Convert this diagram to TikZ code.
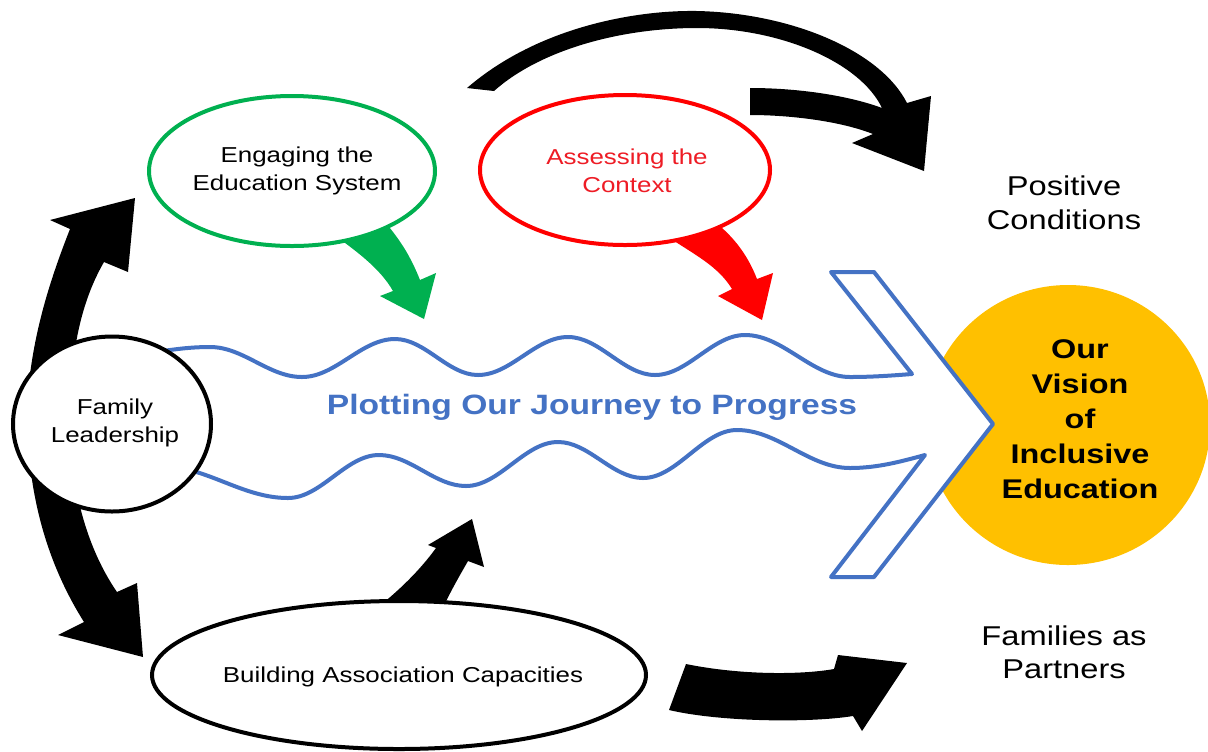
\documentclass[tikz,border=0pt]{standalone}
\usepackage{fontspec}
\setmainfont{Liberation Sans}[FakeStretch=1.2]
\usetikzlibrary{calc,shapes.geometric}
\definecolor{cgreen}{HTML}{00B050}
\definecolor{cred}{HTML}{FF0000}
\definecolor{credtext}{HTML}{EE1C25}
\definecolor{cblue}{HTML}{4472C4}
\definecolor{cgold}{HTML}{FFC000}
\begin{document}
\begin{tikzpicture}[x=0.5pt,y=-0.5pt,
  txt/.style={font=\fontsize{10.8pt}{13.9pt}\selectfont, align=center},
  bigtxt/.style={font=\fontsize{13.6pt}{17pt}\selectfont, align=center, inner sep=0pt},
  oval/.style={ellipse, draw, line width=2pt, fill=white, inner sep=0pt, outer sep=0pt},
  blockarrow/.style={fill=black, draw=none},
  wavestyle/.style={draw=cblue, line width=2pt, fill=white, line join=round}]
\useasboundingbox (0,0) rectangle (1208,751);
\fill[white] (0,0) rectangle (1208,751);

% vision circle
\node[ellipse, fill=cgold, minimum width=142pt, minimum height=140pt, inner sep=0pt] (vision) at (1068,425) {};

% wave arrow
\coordinate (U0) at (210,347);
\coordinate (U1) at (302,377);
\coordinate (U2) at (395,339);
\coordinate (U3) at (478,375);
\coordinate (U4) at (568,337);
\coordinate (U5) at (655,375);
\coordinate (U6) at (745,335);
\coordinate (U7) at (850,377);
\coordinate (U8) at (912,374);
\coordinate (L0) at (160,466);
\coordinate (L1) at (288,498);
\coordinate (L2) at (379,455);
\coordinate (L3) at (466,486);
\coordinate (L4) at (558,442);
\coordinate (L5) at (643,478);
\coordinate (L6) at (737,430);
\coordinate (L7) at (850,468);
\coordinate (L8) at (925,455);
\path[wavestyle] (150,353) sin (U0)
  cos ($(U0)!.5!(U1)$) sin (U1)
  cos ($(U1)!.5!(U2)$) sin (U2)
  cos ($(U2)!.5!(U3)$) sin (U3)
  cos ($(U3)!.5!(U4)$) sin (U4)
  cos ($(U4)!.5!(U5)$) sin (U5)
  cos ($(U5)!.5!(U6)$) sin (U6)
  cos ($(U6)!.5!(U7)$) sin (U7)
  cos (U8) -- (831,272) -- (874,272) -- (993,424) -- (874,577) -- (831,577) -- (L8)
  sin (L7)
  cos ($(L7)!.5!(L6)$) sin (L6)
  cos ($(L6)!.5!(L5)$) sin (L5)
  cos ($(L5)!.5!(L4)$) sin (L4)
  cos ($(L4)!.5!(L3)$) sin (L3)
  cos ($(L3)!.5!(L2)$) sin (L2)
  cos ($(L2)!.5!(L1)$) sin (L1)
  cos ($(L1)!.5!(L0)$) sin (L0)
  -- (140,466) -- cycle;

% left double arrow
\fill[blockarrow] (135,198) -- (128,272) -- (104,262)
  .. controls (82,300) and (70,350) .. (70,420)
  .. controls (70,490) and (88,550) .. (117,592) -- (137,583) -- (143,657) -- (58,635) -- (84,622)
  .. controls (45,560) and (27,490) .. (27,410)
  .. controls (30,340) and (50,280) .. (70,229) -- (50,220) -- cycle;

% family circle
\node[oval, minimum width=99pt, minimum height=87.5pt] (fam) at (112,424) {};
\node[txt] (famtxt) at ($(fam)+(3,-1)$) {Family\\Leadership};

% top big arrow
\fill[blockarrow] (467,88) .. controls (540,25) and (640,10) .. (697,11)
  .. controls (790,13) and (880,50) .. (907,103) -- (931,96) -- (924,171) -- (852,143) -- (873,134)
  .. controls (840,121) and (790,115) .. (750,115) -- (750,88)
  .. controls (800,88) and (850,96) .. (882,108)
  .. controls (860,62) and (780,28) .. (697,28)
  .. controls (620,28) and (540,50) .. (494,91) -- cycle;

% green arrow
\fill[cgreen] (330,232) .. controls (355,250) and (380,268) .. (393,291) -- (380,296) -- (424,319) -- (436,273) -- (420,280)
  .. controls (410,255) and (400,240) .. (385,222) -- cycle;
% red arrow
\fill[cred] (665,235) .. controls (695,255) and (718,266) .. (732,289) -- (718,296) -- (762,320) -- (773,273) -- (757,279)
  .. controls (748,256) and (735,238) .. (715,222) -- cycle;
% small arrow from building
\fill[blockarrow] (372,612) .. controls (400,590) and (420,570) .. (436,548) -- (428,545) -- (472,519) -- (484,567) -- (468,561)
  .. controls (460,575) and (450,592) .. (441,612) -- cycle;
% bottom right arrow
\fill[blockarrow] (686,664) .. controls (740,675) and (800,675) .. (834,669) -- (838,655) -- (907,663) -- (862,731) -- (853,716)
  .. controls (810,723) and (720,722) .. (669,710) -- cycle;

% ellipses
\node[oval, draw=cgreen, minimum width=143pt, minimum height=75pt] (eng) at (292,171) {};
\node[txt] (engtxt) at ($(eng)+(5,0)$) {Engaging the\\Education System};
\node[oval, draw=cred, minimum width=145pt, minimum height=75pt] (ctx) at (625,170) {};
\node[txt, text=credtext] (ctxtxt) at ($(ctx)+(2,1)$) {Assessing the\\Context};
\node[oval, minimum width=247pt, minimum height=74pt] (bld) at (399,675) {};
\node[txt] (bldtxt) at ($(bld)+(4,2)$) {Building Association Capacities};

% texts
\node[font=\bfseries\fontsize{13.5pt}{17.5pt}\selectfont, align=center] (visiontext) at (1080,419) {Our\\Vision\\of\\Inclusive\\Education};
\node[font=\bfseries\fontsize{14pt}{17pt}\selectfont, text=cblue] (journey) at (592,407) {Plotting Our Journey to Progress};
\node[bigtxt] (pos) at (1064,203) {Positive\\Conditions};
\node[bigtxt, font=\fontsize{13.6pt}{16.5pt}\selectfont] (fap) at (1064,652) {Families as\\Partners};
\end{tikzpicture}
\end{document}
